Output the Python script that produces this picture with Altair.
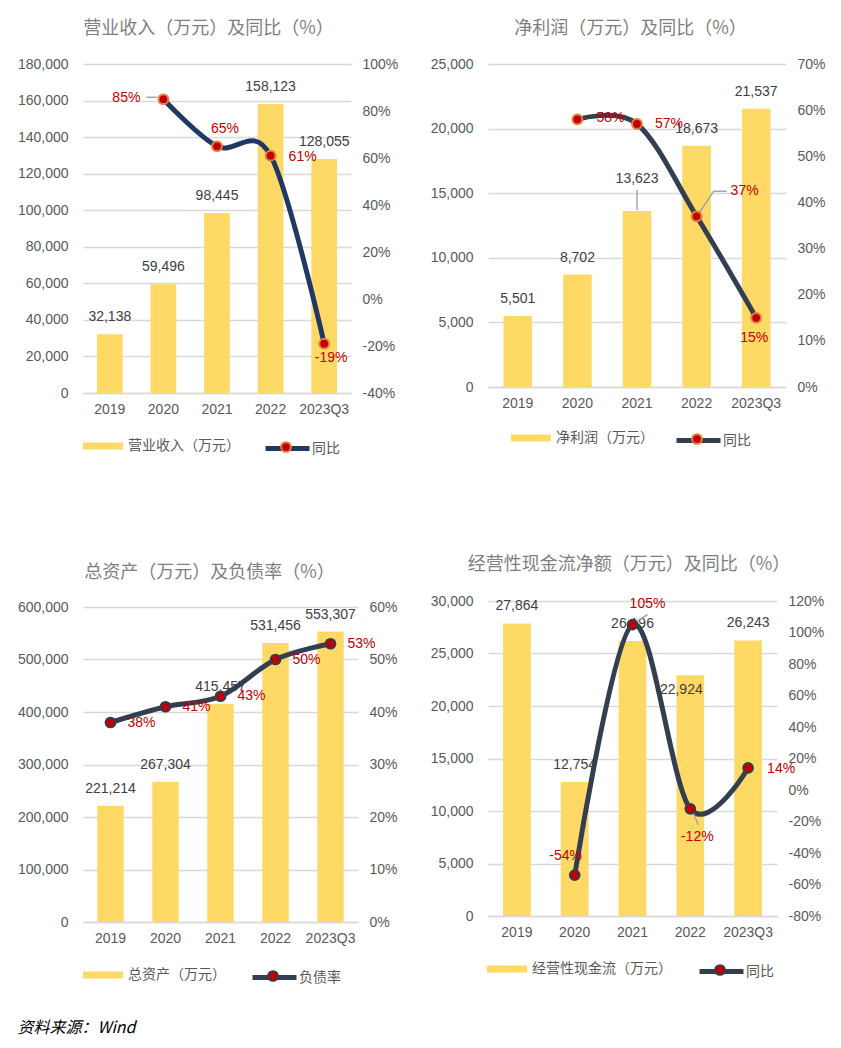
import altair as alt
import pandas as pd

# ---------------- data ----------------
cats = ["2019", "2020", "2021", "2022", "2023Q3"]

revenue = [32138, 59496, 98445, 158123, 128055]
revenue_yoy = [None, 0.85, 0.65, 0.61, -0.19]

profit = [5501, 8702, 13623, 18673, 21537]
profit_yoy = [None, 0.58, 0.57, 0.37, 0.15]

assets = [221214, 267304, 415457, 531456, 553307]
debt_ratio = [0.38, 0.41, 0.43, 0.50, 0.53]

cashflow = [27864, 12754, 26196, 22924, 26243]
cashflow_yoy = [None, -0.54, 1.05, -0.12, 0.14]

# ---------------- style ----------------
GOLD = "#FFD966"
RED = "#C00000"
ORANGE = "#ED7D31"
NAVY = "#1F3864"
SLATE = "#333F50"
GRID = "#D9D9D9"
AX = "#595959"
LBL = "#404040"
LEAD = "#A6A6A6"
NUM_FONT = "Liberation Sans, Noto Sans CJK SC"
CJK_FONT = "Noto Sans CJK SC"
MINUS_FIX = "replace(datum.label, '\u2212', '-')"
IND = dict(color="independent", stroke="independent", fill="independent")


def ticks(lo, hi, step):
    n = int(round((hi - lo) / step))
    return [round(lo + i * step, 6) for i in range(n + 1)]


def panel(title, bar_name, line_name, bars, line, left_dom, left_step,
          right_dom, right_step, width, height, line_color, ring_color,
          bar_adj, line_pos, leaders, leg, title_dx, title_offset=19):
    df = pd.DataFrame({"cat": cats, "bar": bars, "line": line,
                       "bs": bar_name, "ls": line_name, "ds": "dot"})
    base = alt.Chart(df)

    x = alt.X("cat:N", sort=cats,
              scale=alt.Scale(paddingInner=0.52, paddingOuter=0.26),
              axis=alt.Axis(title=None, labelAngle=0, domain=True,
                            domainColor=GRID, domainWidth=1.5, ticks=False,
                            labelPadding=9, labelFont=NUM_FONT,
                            labelFontSize=14, labelColor=AX, grid=False))
    x2 = alt.X2("cat:N")

    left_axis = alt.Axis(title=None, values=ticks(left_dom[0], left_dom[1], left_step),
                         format=",d", grid=True, gridColor=GRID, gridWidth=1.3,
                         domain=False, ticks=False, labelPadding=15,
                         labelFont=NUM_FONT, labelFontSize=14, labelColor=AX)
    right_axis = alt.Axis(title=None, orient="right",
                          values=ticks(right_dom[0], right_dom[1], right_step),
                          format=".0%", labelExpr=MINUS_FIX, grid=False,
                          domain=False, ticks=False, labelPadding=11,
                          labelFont=NUM_FONT, labelFontSize=14, labelColor=AX)
    yL = alt.Y("bar:Q", scale=alt.Scale(domain=left_dom, nice=False, zero=False), axis=left_axis)
    yR = alt.Y("line:Q", scale=alt.Scale(domain=right_dom, nice=False, zero=False), axis=right_axis)

    # ---- bars + labels (left axis)
    bar_layer = base.mark_bar().encode(
        x=x, y=yL,
        color=alt.Color("bs:N", scale=alt.Scale(domain=[bar_name], range=[GOLD]),
                        legend=alt.Legend(title=None, orient="none",
                                          legendX=leg["bx"], legendY=leg["y"] - 20,
                                          symbolType="M-1,-0.18H1V0.18H-1Z",
                                          symbolSize=1600, symbolStrokeWidth=0,
                                          labelFont=CJK_FONT, labelFontSize=14,
                                          labelColor=AX, labelOffset=5, padding=0)))
    left_layers = [bar_layer]
    normal = [c for c in cats if c not in bar_adj]
    left_layers.append(
        base.transform_filter(alt.FieldOneOfPredicate(field="cat", oneOf=normal))
        .mark_text(baseline="middle", dy=-17, font=NUM_FONT, fontSize=14, color=LBL)
        .encode(x=x, y=yL, text=alt.Text("bar:Q", format=",d")))
    for c, (dx, dy) in bar_adj.items():
        left_layers.append(
            base.transform_filter(alt.datum.cat == c)
            .mark_text(baseline="middle", dx=dx, dy=dy, font=NUM_FONT, fontSize=14, color=LBL)
            .encode(x=x, y=yL, text=alt.Text("bar:Q", format=",d")))
    for kind, c, a, b, cc, d in leaders:
        if kind != "bar":
            continue
        left_layers.append(
            base.transform_filter(alt.datum.cat == c)
            .mark_rule(color=LEAD, strokeWidth=1.5, xOffset=a, yOffset=b, x2Offset=cc, y2Offset=d)
            .encode(x=x, x2=x2, y=yL, y2=alt.Y2("bar:Q")))

    # ---- line + markers + labels (right axis)
    lb = base.transform_filter("isValid(datum.line)")
    right_layers = [
        lb.mark_line(interpolate="cardinal", tension=0, strokeWidth=5, strokeCap="round").encode(
            x=x, y=yR,
            stroke=alt.Stroke("ls:N", scale=alt.Scale(domain=[line_name], range=[line_color]),
                              legend=alt.Legend(title=None, orient="none",
                                                legendX=leg["lx"], legendY=leg["y"] - 22,
                                                symbolType="M-1,0H1", symbolSize=1936,
                                                symbolStrokeWidth=5,
                                                labelFont=CJK_FONT, labelFontSize=14,
                                                labelColor=AX, labelOffset=0, padding=0)))
    ]
    for kind, c, a, b, cc, d in leaders:
        if kind != "line":
            continue
        right_layers.append(
            lb.transform_filter(alt.datum.cat == c)
            .mark_rule(color=LEAD, strokeWidth=1.5, xOffset=a, yOffset=b, x2Offset=cc, y2Offset=d)
            .encode(x=x, x2=x2, y=yR, y2=alt.Y2("line:Q")))
    right_layers.append(
        lb.mark_circle(size=95, opacity=1, stroke=ring_color, strokeWidth=2).encode(
            x=x, y=yR,
            fill=alt.Fill("ds:N", scale=alt.Scale(domain=["dot"], range=[RED]),
                          legend=alt.Legend(title=None, orient="none",
                                            legendX=leg["lx"] + 17, legendY=leg["y"] - 5,
                                            symbolType="circle", symbolSize=95,
                                            symbolStrokeColor=ring_color, symbolStrokeWidth=2,
                                            labelExpr="''", padding=0))))
    for c, (al, dx, dy) in line_pos.items():
        right_layers.append(
            lb.transform_filter(alt.datum.cat == c)
            .transform_calculate(lbl="replace(format(datum.line, '.0%'), '\u2212', '-')")
            .mark_text(align=al, baseline="middle", dx=dx, dy=dy, font=NUM_FONT,
                       fontSize=14, color=RED)
            .encode(x=x, y=yR, text="lbl:N"))

    left = alt.layer(*left_layers)
    right = alt.layer(*right_layers)
    return alt.layer(left, right).resolve_scale(y="independent").properties(
        width=width, height=height,
        title=alt.TitleParams(title, font=CJK_FONT, fontSize=18, fontWeight="normal",
                              color="#7F7F7F", anchor="middle", dx=title_dx,
                              offset=title_offset))


p1 = panel("营业收入（万元）及同比（%）", "营业收入（万元）", "同比",
           revenue, revenue_yoy, [0, 180000], 20000, [-0.4, 1.0], 0.2,
           268, 329, NAVY, ORANGE,
           bar_adj={},
           line_pos={"2020": ("right", -23, -1), "2021": ("center", 8, -17),
                     "2022": ("left", 18, 1), "2023Q3": ("center", 7, 14)},
           leaders=[("line", "2020", -17, -2, -6, -2)],
           leg={"bx": 0, "lx": 180, "y": 382}, title_dx=-8.5)

p2 = panel("净利润（万元）及同比（%）", "净利润（万元）", "同比",
           profit, profit_yoy, [0, 25000], 5000, [0.0, 0.7], 0.1,
           298, 323, SLATE, ORANGE,
           bar_adj={"2021": (0, -32)},
           line_pos={"2020": ("left", 19, -1), "2021": ("left", 18, 0),
                     "2022": ("left", 34, -25), "2023Q3": ("center", -2, 20)},
           leaders=[("bar", "2021", 0, -1, 0, -21),
                    ("line", "2022", 3, -4, 17, -25),
                    ("line", "2022", 17, -25, 30, -25)],
           leg={"bx": 23, "lx": 186, "y": 374}, title_dx=-6.5)

p3 = panel("总资产（万元）及负债率（%）", "总资产（万元）", "负债率",
           assets, debt_ratio, [0, 600000], 100000, [0.0, 0.6], 0.1,
           275, 315, SLATE, SLATE,
           bar_adj={},
           line_pos={c: ("left", 17, 0) for c in cats},
           leaders=[],
           leg={"bx": 0, "lx": 167, "y": 368}, title_dx=-11, title_offset=18)

p4 = panel("经营性现金流净额（万元）及同比（%）", "经营性现金流（万元）", "同比",
           cashflow, cashflow_yoy, [0, 30000], 5000, [-0.8, 1.2], 0.2,
           289, 315, SLATE, SLATE,
           bar_adj={"2022": (-9, 15)},
           line_pos={"2020": ("center", -9, -19), "2021": ("center", 15, -21),
                     "2022": ("center", 7, 28), "2023Q3": ("left", 19, 1)},
           leaders=[("line", "2021", 2, -2, 15, -10),
                    ("line", "2022", 2, 2, 8, 16)],
           leg={"bx": -1, "lx": 209, "y": 368}, title_dx=-3.5, title_offset=20)

col1 = alt.vconcat(p1, p3, spacing=105).resolve_scale(**IND).resolve_legend(**IND)
col2 = alt.vconcat(p2, p4, spacing=105).resolve_scale(**IND).resolve_legend(**IND)

chart = alt.hconcat(col1, col2, spacing=32).resolve_scale(**IND).resolve_legend(**IND).properties(
    title=alt.TitleParams("资料来源：Wind", orient="bottom", anchor="start", frame="bounds",
                          font=CJK_FONT, fontSize=16, fontStyle="italic",
                          fontWeight="normal", color="black", offset=32),
    padding={"left": 17, "top": 20, "right": 5, "bottom": 5},
).configure(background="white").configure_view(stroke=None)

chart.save("out.html", embed_options={"renderer": "svg", "actions": False})
